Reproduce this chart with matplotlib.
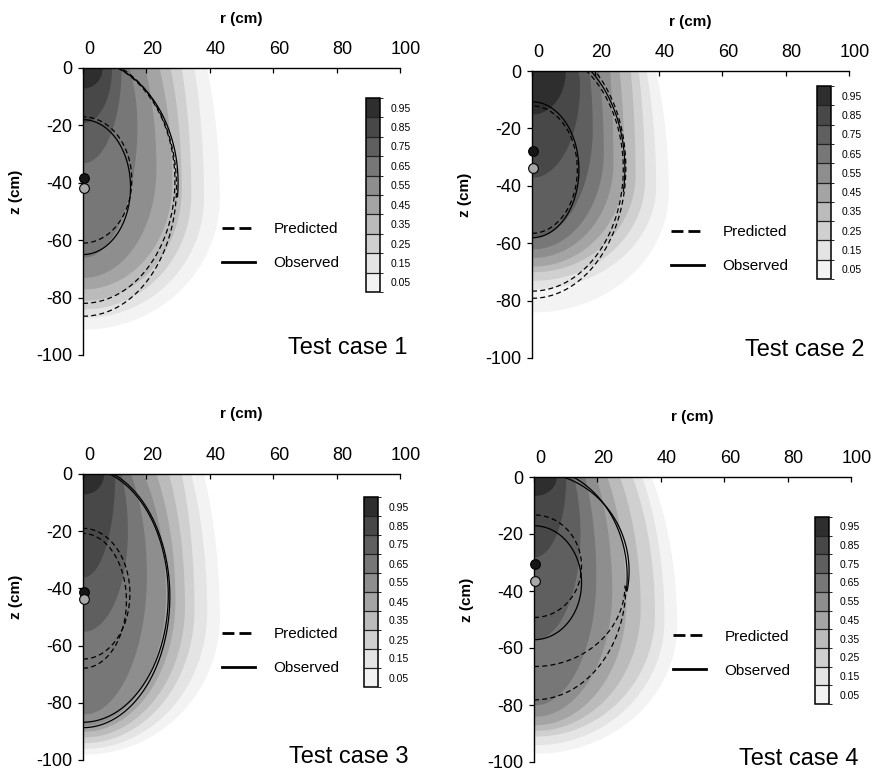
import matplotlib
matplotlib.use('Agg')
import matplotlib.pyplot as plt
import matplotlib.transforms as mtrans
from matplotlib.colors import ListedColormap, BoundaryNorm
from matplotlib.cm import ScalarMappable
from matplotlib.lines import Line2D
import numpy as np

plt.rcParams['font.family'] = ['Liberation Sans', 'DejaVu Sans']
plt.rcParams['axes.unicode_minus'] = False

# probability classes (darkest first) and their grey
levels = [0.95, 0.85, 0.75, 0.65, 0.55, 0.45, 0.35, 0.25, 0.15, 0.05]
greys = ['#2e2e2e', '#484848', '#5f5f5f', '#777777', '#8e8e8e',
         '#a4a4a4', '#bbbbbb', '#d0d0d0', '#e4e4e4', '#f3f3f3']

r_ticks = [0, 20, 40, 60, 80, 100]
z_ticks = [0, -20, -40, -60, -80, -100]

# outer edge of each class: radius at surface, max radius, depth of max, bottom depth
case1_rtop = [6, 9, 11.5, 14.5, 19.5, 24, 27.5, 31, 35, 39]
case1_rmax = [6, 9, 12, 17, 23, 28, 31, 34, 38, 43]
case1_zmid = [0, 0, 0, -20, -35, -40, -42, -44, -45, -45]
case1_zbot = [-7, -19, -33, -66, -73, -77, -81, -84, -87, -91]

case2_rtop = [10, 14.5, 18, 21, 24.5, 27.5, 31, 33.5, 36, 39]
case2_rmax = [10.5, 15, 19, 22.5, 25.5, 29, 32.5, 35.5, 39, 43]
case2_zmid = [0, -5, -20, -28, -32, -34, -36, -38, -40, -42]
case2_zbot = [-15, -37, -58, -62, -65, -68, -70, -73, -76, -84]

case3_rtop = [6.5, 9, 12, 15, 19, 23, 27, 31, 34, 38]
case3_rmax = [6.5, 10, 14, 20, 26, 29, 32, 35, 39, 43]
case3_zmid = [0, 0, -20, -35, -42, -44, -46, -47, -48, -50]
case3_zbot = [-7, -36, -55, -84, -88, -90, -92, -94, -96, -98]

case4_rtop = [7, 9.5, 12.5, 16, 19.5, 23, 27, 31, 34, 37]
case4_rmax = [7, 10, 14.5, 19.5, 24.5, 29, 33.5, 38, 41, 45]
case4_zmid = [0, 0, -20, -35, -40, -44, -46, -48, -50, -52]
case4_zbot = [-6.5, -28, -57, -80, -84, -87, -89, -91, -94, -97]

# fronts: kind, centre depth, half width, half height, shown from z_lo to z_hi
case1_fronts = [('pred', -39, 15.4, 22, -100, 0), ('obs', -41.5, 15, 23.5, -100, 0),
                ('pred', -39.4, 29, 42.6, -100, 0), ('pred', -41.3, 29.5, 45.2, -100, 0),
                ('obs', -40, 30, 43, -45, 0)]
case2_fronts = [('obs', -34.4, 14.8, 23.7, -100, 0), ('pred', -34.35, 14.3, 22.2, -100, 0),
                ('pred', -34.1, 28.8, 42.6, -100, 0), ('pred', -33.7, 29.6, 45.5, -100, 0),
                ('obs', -34, 29.3, 44, -42, 0)]
case3_fronts = [('pred', -41.85, 14.8, 22.85, -100, 0), ('pred', -44.35, 13.7, 23.55, -100, 0),
                ('obs', -42.3, 26.9, 44.5, -100, 0), ('obs', -42.9, 27.4, 45.8, -100, 0)]
case4_fronts = [('pred', -31.3, 15, 18, -100, 0), ('obs', -37.1, 15, 20, -100, 0),
                ('obs', -33, 30, 34.7, -40, 0), ('obs', -35, 29.4, 38.6, -40, 0),
                ('pred', -38, 28.7, 28.5, -100, -38), ('pred', -38, 29, 40.2, -100, -38)]

# injection points (black = observed, grey = predicted)
dots_black_z = [-38.2, -27.9, -41.4, -30.6]
dots_grey_z = [-41.9, -33.7, -43.7, -36.5]

titles = ['Test case 1', 'Test case 2', 'Test case 3', 'Test case 4']

shading = [(case1_rtop, case1_rmax, case1_zmid, case1_zbot),
           (case2_rtop, case2_rmax, case2_zmid, case2_zbot),
           (case3_rtop, case3_rmax, case3_zmid, case3_zbot),
           (case4_rtop, case4_rmax, case4_zmid, case4_zbot)]
fronts = [case1_fronts, case2_fronts, case3_fronts, case4_fronts]

# layout (figure pixels)
W, H = 873, 771
axes_px = [(83, 68, 317, 287), (532, 71, 317, 287), (83, 474, 317, 286), (534, 477, 317, 285)]
cbar_px = [(366, 98, 13.5, 194), (817, 86, 14, 193), (363.5, 497, 14.5, 190), (814.5, 517, 14.5, 187)]
title_pos = [(102.5, -97.6), (105, -97.2), (102.7, -98.8), (102.3, -99)]
xlabel_pad = [13, 13, 21, 21]

fig = plt.figure(figsize=(W / 100, H / 100), dpi=100)
shift = mtrans.ScaledTranslation(6 / 100, 0, fig.dpi_scale_trans)

cmap = ListedColormap(greys[::-1])
norm = BoundaryNorm(np.linspace(0, 1, 11), cmap.N)


def class_edge(rtop, rmax, zmid, zbot):
    z = np.linspace(zbot, 0, 300)
    r = np.zeros_like(z)
    lo = z <= zmid
    r[lo] = rmax * np.sqrt(np.clip(1 - ((z[lo] - zmid) / (zmid - zbot)) ** 2, 0, 1))
    if zmid < 0 and rtop < rmax:
        b_up = -zmid / np.sqrt(1 - (rtop / rmax) ** 2)
        up = z > zmid
        r[up] = rmax * np.sqrt(np.clip(1 - ((z[up] - zmid) / b_up) ** 2, 0, 1))
    else:
        r[z > zmid] = rmax
    return z, r


for i in range(4):
    x, y, w, h = axes_px[i]
    ax = fig.add_axes([x / W, 1 - (y + h) / H, w / W, h / H])
    rtop, rmax, zmid, zbot = shading[i]

    # grey classes, lightest (outermost) first
    for k in range(len(levels) - 1, -1, -1):
        z, r = class_edge(rtop[k], rmax[k], zmid[k], zbot[k])
        ax.fill_betweenx(z, 0, r, color=greys[k], lw=0)

    t = np.linspace(-np.pi / 2, np.pi / 2, 600)
    for kind, zc, a, b, zlo, zhi in fronts[i]:
        r = a * np.cos(t)
        z = zc + b * np.sin(t)
        z = np.where((z >= zlo) & (z <= zhi), z, np.nan)
        if kind == 'pred':
            ax.plot(r, z, color='black', lw=0.9, ls=(0, (4, 2.6)))
        else:
            ax.plot(r, z, color='black', lw=0.9)

    ax.plot([0.4], [dots_black_z[i]], 'o', ms=7, mfc='#151515', mec='black', mew=0.8, clip_on=False, zorder=5)
    ax.plot([0.4], [dots_grey_z[i]], 'o', ms=7, mfc='#a8a8a8', mec='black', mew=0.8, clip_on=False, zorder=5)

    ax.set_xlim(0, 100)
    ax.set_ylim(-100, 0)
    ax.set_xticks(r_ticks)
    ax.set_yticks(z_ticks)
    ax.set_xticklabels([str(v) for v in r_ticks])
    ax.set_yticklabels([str(v) for v in z_ticks])
    ax.xaxis.tick_top()
    ax.xaxis.set_label_position('top')
    ax.tick_params(axis='x', direction='in', length=3.5, width=0.9, labelsize=13, pad=7)
    ax.tick_params(axis='y', direction='out', length=3.5, width=0.9, labelsize=13, pad=4)
    for lab in ax.get_xticklabels():
        lab.set_transform(lab.get_transform() + shift)
    for s in ['right', 'bottom']:
        ax.spines[s].set_visible(False)
    for s in ['top', 'left']:
        ax.spines[s].set_linewidth(1.0)
    ax.set_xlabel('r (cm)', fontsize=11, fontweight='bold', labelpad=xlabel_pad[i])
    ax.set_ylabel('z (cm)', fontsize=11, fontweight='bold')
    ax.yaxis.set_label_coords(-0.19, 0.57)

    handles = [Line2D([], [], color='black', lw=2, ls=(0, (4.3, 1.8))),
               Line2D([], [], color='black', lw=2)]
    ax.legend(handles, ['Predicted', 'Observed'], loc='center left',
              bbox_to_anchor=(44, -62), bbox_transform=ax.transData,
              frameon=False, fontsize=11, handlelength=2.15, handletextpad=1.2,
              labelspacing=1.3, borderpad=0, borderaxespad=0)

    tx, tz = title_pos[i]
    ax.text(tx, tz, titles[i], fontsize=17, ha='right', va='center', clip_on=False)

    cx, cy, cw, ch = cbar_px[i]
    cax = fig.add_axes([cx / W, 1 - (cy + ch) / H, cw / W, ch / H])
    cb = fig.colorbar(ScalarMappable(norm=norm, cmap=cmap), cax=cax,
                      ticks=levels, drawedges=True)
    cb.ax.set_yticklabels(['%.2f' % v for v in levels])
    cb.ax.tick_params(length=0, labelsize=7.5, pad=8)
    cb.outline.set_linewidth(1.1)
    cb.dividers.set_linewidth(0.9)
    cb.dividers.set_color('#222222')

fig.savefig('out.png', dpi=100)
